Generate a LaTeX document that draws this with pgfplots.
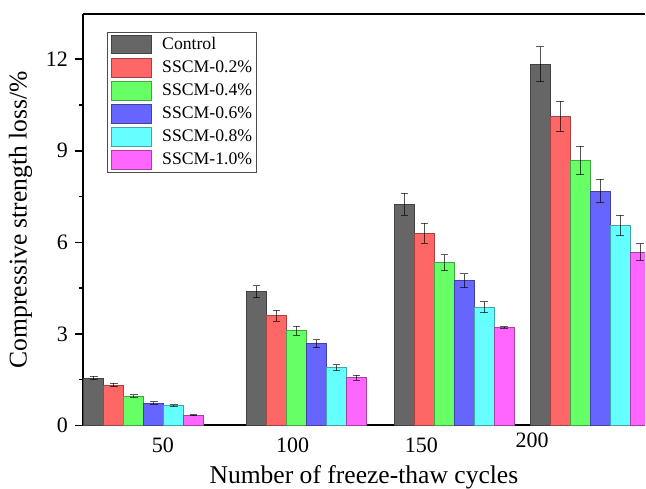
\documentclass[border=0pt]{standalone}
\usepackage{fontspec}
\setmainfont{Liberation Serif}
\usepackage{pgfplots}
\pgfplotsset{compat=1.18}

\definecolor{cctrl}{HTML}{666666}
\definecolor{cred}{HTML}{FF6666}
\definecolor{cgreen}{HTML}{66FF66}
\definecolor{cblue}{HTML}{6666FF}
\definecolor{ccyan}{HTML}{66FFFF}
\definecolor{cmag}{HTML}{FF66FF}

\pgfplotsset{
  barsty/.style={ybar, bar width=20, bar shift=0pt, fill=#1, draw=#1!65!black, line width=0.5pt, forget plot,
    error bars/.cd, y dir=both, y explicit,
    error bar style={line width=0.5pt, black, opacity=0.65},
    error mark options={rotate=90, mark size=1.9pt, line width=0.5pt, black, opacity=0.65}},
  legsty/.style={legend image code/.code={\draw[fill=#1, draw=#1!65!black, line width=0.5pt] (0pt,-4.75pt) rectangle (20pt,4.75pt);}},
}

\begin{document}
\begin{tikzpicture}
\begin{axis}[
  scale only axis, width=281.5pt, height=206pt,
  xmin=83, xmax=646, ymin=0, ymax=13.48,
  axis x line=box, axis y line=left,
  y axis line style={-}, x axis line style={-},
  axis line style={line width=1pt},
  xtick={163,293,422,533}, xticklabels={50,100,150,\raisebox{2.5pt}[7.4pt][0pt]{200}},
  xtick style={draw=none},
  ytick={0,3,6,9,12}, minor y tick num=1,
  ytick pos=left, tick align=outside,
  major tick length=4pt, minor tick length=2pt,
  tick style={line width=0.8pt, black},
  /pgf/number format/assume math mode=true,
  ticklabel style={font=\fontsize{11}{12}\selectfont},
  xticklabel style={yshift=1.5pt},
  xlabel={Number of freeze-thaw cycles},
  ylabel={Compressive strength loss/\%},
  label style={font=\fontsize{12.8}{14}\selectfont},
  xlabel style={at={(axis description cs:0.5,0)}, anchor=base, yshift=-29pt, inner sep=0pt},
  clip=true,
  legend style={at={(0.0426,0.9563)}, anchor=north west, draw=black!70, line width=0.5pt,
    inner xsep=2pt, inner ysep=1pt, row sep=1.6pt,
    font=\fontsize{8.85}{10}\selectfont,
    nodes={inner xsep=0pt, inner ysep=0.3pt},
    /tikz/every odd column/.append style={column sep=5pt}},
  legend cell align=left,
]
\addlegendimage{legsty=cctrl}\addlegendentry{Control}
\addlegendimage{legsty=cred}\addlegendentry{SSCM-0.2\%}
\addlegendimage{legsty=cgreen}\addlegendentry{SSCM-0.4\%}
\addlegendimage{legsty=cblue}\addlegendentry{SSCM-0.6\%}
\addlegendimage{legsty=ccyan}\addlegendentry{SSCM-0.8\%}
\addlegendimage{legsty=cmag}\addlegendentry{SSCM-1.0\%}
\addplot[barsty=cctrl] table[x=x,y=y,y error=e]{
x y e
94 1.55 0.06
257 4.38 0.20
405 7.25 0.36
541 11.83 0.57
};
\addplot[barsty=cred] table[x=x,y=y,y error=e]{
x y e
114 1.32 0.06
277 3.60 0.18
425 6.30 0.33
561 10.13 0.50
};
\addplot[barsty=cgreen] table[x=x,y=y,y error=e]{
x y e
134 0.96 0.04
297 3.10 0.15
445 5.33 0.27
581 8.68 0.46
};
\addplot[barsty=cblue] table[x=x,y=y,y error=e]{
x y e
154 0.73 0.04
317 2.67 0.13
465 4.74 0.23
601 7.68 0.39
};
\addplot[barsty=ccyan] table[x=x,y=y,y error=e]{
x y e
174 0.64 0.03
337 1.89 0.10
485 3.87 0.18
621 6.55 0.33
};
\addplot[barsty=cmag] table[x=x,y=y,y error=e]{
x y e
194 0.34 0.01
357 1.56 0.08
505 3.21 0.03
641 5.68 0.28
};
\coordinate (bbl) at (axis cs:0,-1.996);
\coordinate (btr) at (axis cs:646,13.94);
\end{axis}
\path (bbl) rectangle (btr);
\end{tikzpicture}
\end{document}
